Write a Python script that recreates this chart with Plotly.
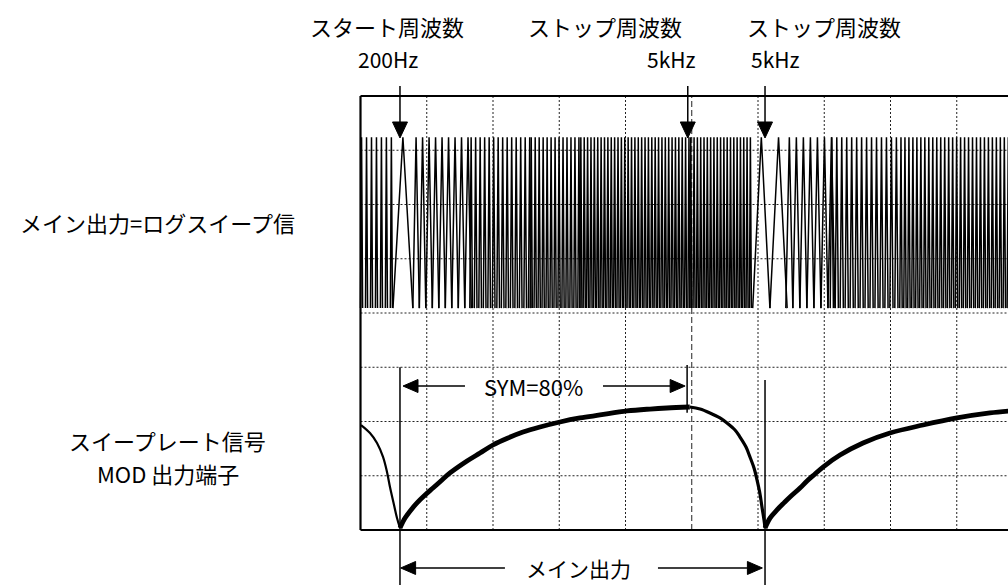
import plotly.graph_objects as go

# Screen geometry of the scope picture (1 division = 66.25 px wide, 54.25 px tall)
X_MIN, X_MAX = -5.4415, 9.7736
Y_MIN, Y_MAX = -1.0138, 9.7696
N_DIV_X, N_DIV_Y = 10, 8

# Main output (log sweep) as seen on screen: segments of roughly constant
# visible cycle pitch, in divisions
TRACE_SEG_START = [0.0, 0.49, 0.79, 1.65, 2.56, 3.31, 4.97, 5.92, 6.42, 7.09, 8.14]
TRACE_SEG_PITCH = [0.075, 0.30, 0.098, 0.068, 0.060, 0.051, 0.050, 0.26, 0.106, 0.075, 0.060]
TRACE_SEG_SPIKE = [0.016, 0.15, 0.049, 0.020, 0.017, 0.016, 0.015, 0.13, 0.053, 0.024, 0.018]
TRACE_TOP = 7.24
TRACE_BOTTOM = 4.09

# Sweep ramp (MOD output)
RAMP_FALL0_X = [0.008, 0.143, 0.249, 0.340, 0.400, 0.445, 0.506, 0.551, 0.596]
RAMP_FALL0_Y = [1.935, 1.788, 1.604, 1.346, 1.069, 0.793, 0.461, 0.221, 0.037]

RAMP_RISE1_X = [0.596, 0.672, 0.762, 0.853, 0.974, 1.094, 1.230, 1.351, 1.608, 1.804, 2.000,
                2.226, 2.453, 2.709, 3.011, 3.313, 3.615, 4.023, 4.370, 4.626, 4.970]
RAMP_RISE1_Y = [0.037, 0.22, 0.37, 0.50, 0.645, 0.774, 0.922, 1.051, 1.272, 1.419, 1.567,
                1.696, 1.806, 1.899, 1.991, 2.065, 2.120, 2.194, 2.230, 2.249, 2.267]

RAMP_FALL1_X = [4.970, 5.125, 5.275, 5.426, 5.532, 5.653, 5.728, 5.819, 5.879, 5.940, 5.985,
                6.030, 6.060, 6.091, 6.106]
RAMP_FALL1_Y = [2.267, 2.230, 2.157, 2.065, 1.972, 1.843, 1.714, 1.530, 1.346, 1.143, 0.922,
                0.664, 0.424, 0.184, 0.037]

RAMP_RISE2_X = [6.106, 6.181, 6.287, 6.392, 6.483, 6.634, 6.740, 6.860, 6.981, 7.238, 7.585,
                7.992, 8.491, 9.004, 9.502, 9.804]
RAMP_RISE2_Y = [0.037, 0.22, 0.37, 0.50, 0.608, 0.774, 0.903, 1.032, 1.161, 1.382, 1.604,
                1.788, 1.935, 2.065, 2.157, 2.194]

# Markers (divisions)
START_MARK = 0.596
STOP_MARK = 4.94
NEXT_MARK = 6.106
SYM_PERCENT = 80

FONT = "Noto Sans CJK JP, Noto Sans, Arial"
BLACK = "#000000"


def down_arrow_head(x, tip, hx=0.113, hy=0.295):
    return f"M {x - hx} {tip + hy} L {x + hx} {tip + hy} L {x} {tip} Z"


def side_arrow_head(tip, y, direction, hx=0.226, hy=0.12):
    base = tip - direction * hx
    return f"M {base} {y - hy} L {base} {y + hy} L {tip} {y} Z"


fig = go.Figure()

# swept sine trace
xs, ys = [], []
seg_end = TRACE_SEG_START[1:] + [X_MAX]
for s, e, p, h in zip(TRACE_SEG_START, seg_end, TRACE_SEG_PITCH, TRACE_SEG_SPIKE):
    x = s
    while x < e - 1e-9:
        xs += [x, x + h, x + 2 * h, None]
        ys += [TRACE_BOTTOM, TRACE_TOP, TRACE_BOTTOM, None]
        x += p
fig.add_trace(go.Scatter(x=xs, y=ys, mode="lines", line=dict(color=BLACK, width=1.5),
                         hoverinfo="skip", showlegend=False))

# sweep ramp
for rx, ry, w in [(RAMP_FALL0_X, RAMP_FALL0_Y, 2.2), (RAMP_RISE1_X, RAMP_RISE1_Y, 4.8),
                  (RAMP_FALL1_X, RAMP_FALL1_Y, 3.2), (RAMP_RISE2_X, RAMP_RISE2_Y, 4.8)]:
    fig.add_trace(go.Scatter(x=rx, y=ry, mode="lines", line=dict(color=BLACK, width=w, shape="spline"),
                             hoverinfo="skip", showlegend=False))

shapes = []
grid = dict(color="#222222", width=1, dash="2px,2px")
for i in range(1, N_DIV_X):
    d = "6px,3px" if i == 5 else grid["dash"]
    shapes.append(dict(type="line", x0=i, x1=i, y0=0, y1=N_DIV_Y, layer="below",
                       line=dict(color=grid["color"], width=1, dash=d)))
for j in range(1, N_DIV_Y):
    shapes.append(dict(type="line", x0=0, x1=N_DIV_X, y0=j, y1=j, layer="below", line=grid))

# frame (right edge is off screen)
frame = dict(color=BLACK, width=2.2)
shapes += [
    dict(type="line", x0=0, x1=0, y0=0, y1=N_DIV_Y, line=frame),
    dict(type="line", x0=0, x1=N_DIV_X, y0=N_DIV_Y, y1=N_DIV_Y, line=frame),
    dict(type="line", x0=0, x1=N_DIV_X, y0=0, y1=0, line=frame),
]

thin = dict(color=BLACK, width=1.5)
# top pointer arrows
for mx in [START_MARK, STOP_MARK, NEXT_MARK]:
    shapes.append(dict(type="line", x0=mx, x1=mx, y0=8.184, y1=7.5, line=thin))
    shapes.append(dict(type="path", path=down_arrow_head(mx, 7.226), fillcolor=BLACK,
                       line=dict(color=BLACK, width=1)))

# marker lines on the ramp
shapes += [
    dict(type="line", x0=START_MARK, x1=START_MARK, y0=3.0, y1=Y_MIN, line=thin),
    dict(type="line", x0=4.93, x1=4.93, y0=3.04, y1=2.16, line=thin),
    dict(type="line", x0=NEXT_MARK, x1=NEXT_MARK, y0=2.765, y1=Y_MIN, line=thin),
]

# SYM arrow
sym_y = 2.654
shapes += [
    dict(type="line", x0=0.86, x1=1.577, y0=sym_y, y1=sym_y, line=thin),
    dict(type="line", x0=3.66, x1=4.68, y0=sym_y, y1=sym_y, line=thin),
    dict(type="path", path=side_arrow_head(0.642, sym_y, -1), fillcolor=BLACK, line=dict(color=BLACK, width=1)),
    dict(type="path", path=side_arrow_head(4.90, sym_y, 1), fillcolor=BLACK, line=dict(color=BLACK, width=1)),
]

# main output arrow
main_y = -0.70
shapes += [
    dict(type="line", x0=0.82, x1=2.18, y0=main_y, y1=main_y, line=thin),
    dict(type="line", x0=4.49, x1=5.84, y0=main_y, y1=main_y, line=thin),
    dict(type="path", path=side_arrow_head(START_MARK + 0.01, main_y, -1), fillcolor=BLACK, line=dict(color=BLACK, width=1)),
    dict(type="path", path=side_arrow_head(NEXT_MARK - 0.04, main_y, 1), fillcolor=BLACK, line=dict(color=BLACK, width=1)),
]

labels = [
    ("スタート周波数", 0.40, 9.29, 22),
    ("200Hz", 0.415, 8.68, 21),
    ("ストップ周波数", 3.69, 9.29, 22),
    ("5kHz", 4.69, 8.68, 21),
    ("ストップ周波数", 6.99, 9.29, 22),
    ("5kHz", 6.26, 8.68, 21),
    ("メイン出力=ログスイープ信", -3.07, 5.677, 22),
    ("スイープレート信号", -2.906, 1.659, 22),
    ("MOD 出力端子", -2.906, 1.051, 22),
    (f"SYM={SYM_PERCENT}%", 2.604, sym_y, 22),
    ("メイン出力", 3.298, main_y, 21),
]
annotations = [dict(text=t, x=x, y=y, xref="x", yref="y", showarrow=False,
                    xanchor="center", yanchor="middle",
                    font=dict(family=FONT, size=sz, color=BLACK)) for t, x, y, sz in labels]

fig.update_layout(
    width=1008, height=585,
    margin=dict(l=0, r=0, t=0, b=0),
    paper_bgcolor="white", plot_bgcolor="white",
    xaxis=dict(range=[X_MIN, X_MAX], visible=False, fixedrange=True),
    yaxis=dict(range=[Y_MIN, Y_MAX], visible=False, fixedrange=True),
    shapes=shapes, annotations=annotations,
    showlegend=False,
)

fig.write_html("out.html", config={"displayModeBar": False},
               post_script="document.body.style.margin='0';")
